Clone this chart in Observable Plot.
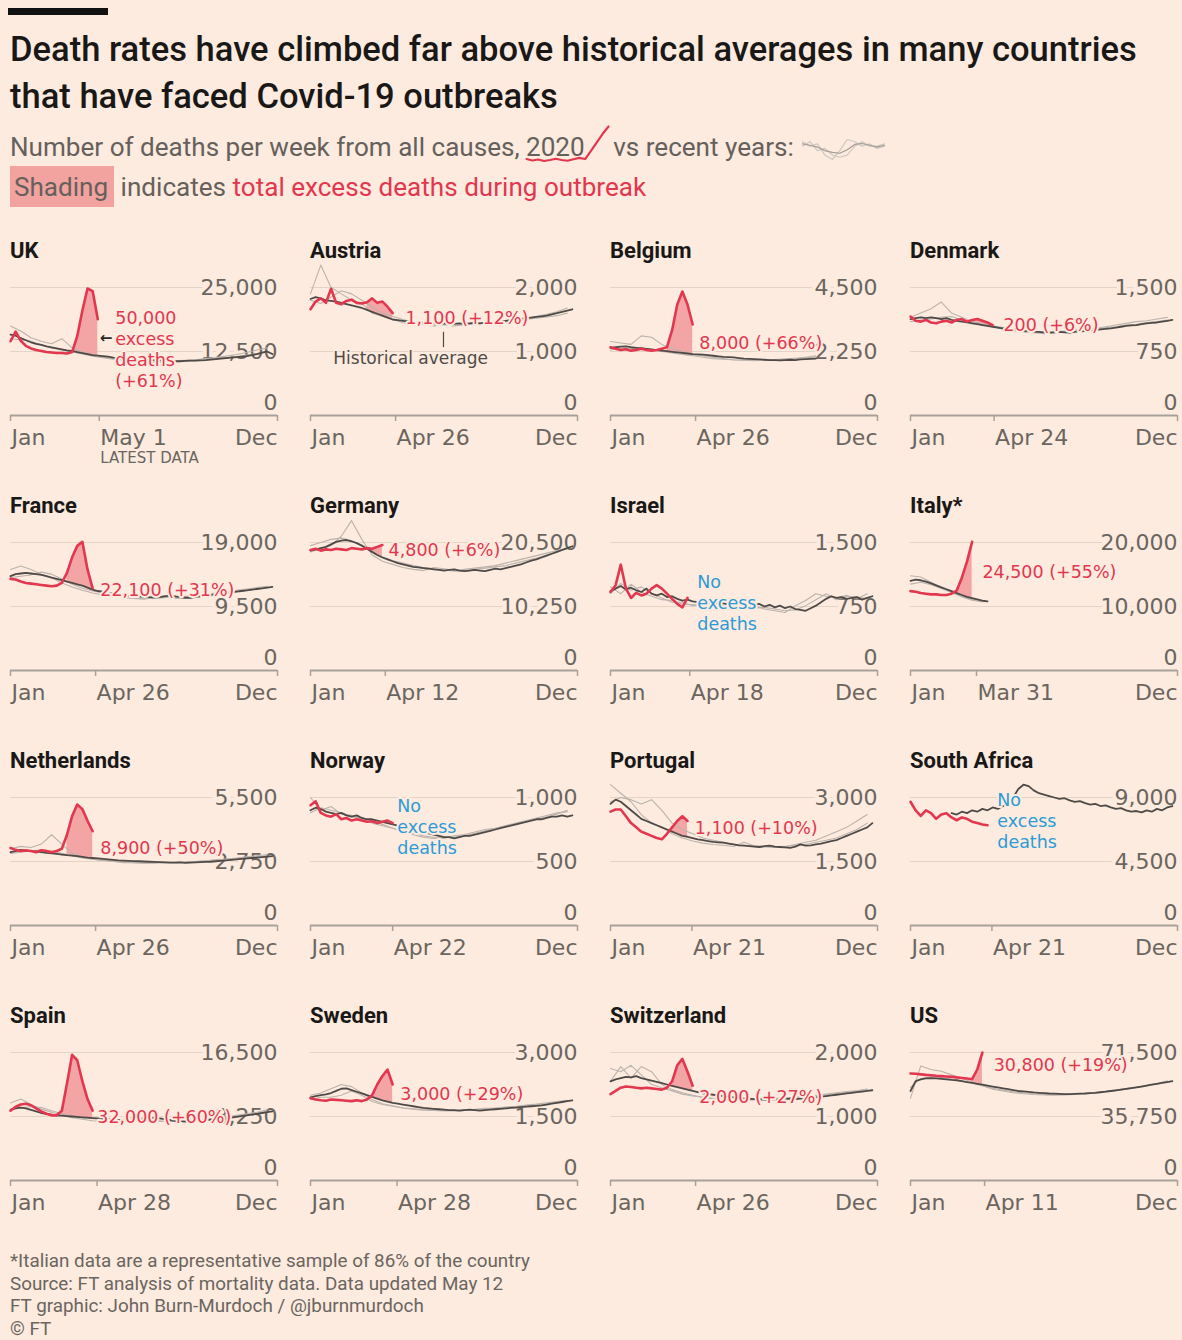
<!DOCTYPE html>
<html><head><meta charset="utf-8">
<script src="https://cdn.jsdelivr.net/npm/d3@7"></script>
<script src="https://cdn.jsdelivr.net/npm/@observablehq/plot@0.6"></script>
<style>
body{margin:0;background:#fcebde;}
#root{position:relative;width:1182px;height:1340px;overflow:hidden;font-family:Roboto,"DejaVu Sans",sans-serif;background:#fcebde;}
.bar{position:absolute;left:8px;top:8px;width:100px;height:7px;background:#111;}
.title{position:absolute;left:10px;top:26px;font-size:30px;font-weight:500;line-height:47px;color:#1a1817;white-space:nowrap;}
.sub{position:absolute;left:10px;top:127px;font-size:23px;line-height:40px;color:#66605c;white-space:nowrap;}
.sub .red{color:#e2374f;}
.sub .hl{background:#f2a3a0;padding:6px 6px 5px 4px;}
.panel{position:absolute;width:300px;height:255px;}
.ptitle{position:absolute;left:2px;top:0;font-weight:700;font-size:22px;line-height:22px;color:#1a1817;white-space:nowrap;}
.panel svg{position:absolute;left:0;top:22px;}
.foot{position:absolute;left:10px;top:1250px;font-size:16.5px;line-height:22.5px;color:#6b6560;white-space:nowrap;}
</style></head>
<body>
<div id="root">
  <div class="bar"></div>
  <div class="title" id="title"><span id="t1">Death rates have climbed far above historical averages in many countries</span><br>that have faced Covid-19 outbreaks</div>
  <div class="sub" id="sub"><span id="s1">Number of deaths per week from all causes, <span id="y2020" style="position:relative">2020</span></span><span style="display:inline-block;width:22px"></span>&nbsp;vs recent years: <span id="greyIcon" style="display:inline-block;vertical-align:middle;width:86px;height:24px;"></span><br><span class="hl">Shading</span> indicates <span class="red">total excess deaths during outbreak</span></div>
  <div id="grid"></div>
  <div class="foot" id="foot"><span id="f1">*Italian data are a representative sample of 86% of the country</span><br>Source: FT analysis of mortality data. Data updated May 12<br>FT graphic: John Burn-Murdoch / @jburnmurdoch<br>© FT</div>
</div>
<script>
// ---------------- DATA ----------------
const countries = ["UK","Austria","Belgium","Denmark","France","Germany","Israel","Italy*","Netherlands","Norway","Portugal","South Africa","Spain","Sweden","Switzerland","US"];
const yMax = [25000,2000,4500,1500,19000,20500,1500,20000,5500,1000,3000,9000,16500,3000,2000,71500];
const latestDates = ["2020-05-01","2020-04-26","2020-04-26","2020-04-24","2020-04-26","2020-04-12","2020-04-18","2020-03-31","2020-04-26","2020-04-22","2020-04-21","2020-04-21","2020-04-28","2020-04-28","2020-04-26","2020-04-11"];
const latestLabels = ["May 1","Apr 26","Apr 26","Apr 24","Apr 26","Apr 12","Apr 18","Mar 31","Apr 26","Apr 22","Apr 21","Apr 21","Apr 28","Apr 28","Apr 26","Apr 11"];
const excessLabels = ["50,000\nexcess\ndeaths\n(+61%)","1,100 (+12%)","8,000 (+66%)","200 (+6%)","22,100 (+31%)","4,800 (+6%)","No\nexcess\ndeaths","24,500 (+55%)","8,900 (+50%)","No\nexcess\ndeaths","1,100 (+10%)","No\nexcess\ndeaths","32,000 (+60%)","3,000 (+29%)","2,000 (+27%)","30,800 (+19%)"];
const hasExcess = [true,true,true,true,true,true,false,true,true,false,true,false,true,true,true,true];
const shadeStartWeek = [12,11,11,12,11,11,null,9,11,null,12,null,10,12,12,12];

// weekly deaths in 2020, from week 0 (early Jan) to latest week
const deaths2020 = [
  [14500,16400,14600,13600,13100,12800,12600,12400,12300,12200,12200,12100,12400,15500,20500,24800,24300,18800],
  [1660,1780,1830,1760,1980,1760,1740,1790,1810,1760,1750,1770,1830,1760,1780,1700,1600],
  [2400,2350,2300,2330,2280,2300,2350,2300,2280,2300,2350,2400,3000,3900,4360,3900,3200],
  [1160,1110,1100,1120,1090,1080,1100,1110,1090,1120,1130,1100,1120,1130,1110,1090,1060],
  [13600,13500,13200,13000,12900,12800,12700,12600,12500,12600,13000,14500,16800,18500,19100,15000,12200],
  [19300,19500,19200,19400,19300,19500,19400,19300,19600,19500,19400,19600,19500,19800,20100],
  [920,1000,1240,960,850,910,880,900,960,1000,960,900,840,780,740,850],
  [12400,12300,12100,12000,11900,11900,11800,11800,12000,12500,14500,17000,20100],
  [3330,3250,3200,3220,3200,3150,3230,3200,3150,3200,3300,3900,4700,5200,5000,4500,4050],
  [940,970,880,860,850,870,830,840,820,830,820,810,815,800,810,820,800],
  [2670,2720,2720,2560,2400,2300,2200,2150,2100,2050,2020,2150,2300,2450,2560,2450],
  [8700,8100,7700,8100,7900,7500,7800,7900,7600,7400,7600,7500,7300,7200,7100,7050],
  [9000,9500,9800,9900,9700,9300,8900,8600,8400,8400,9000,12500,16200,15500,12800,10500,9000],
  [1930,1900,1880,1870,1900,1890,1880,1870,1860,1880,1860,1900,2000,2250,2450,2600,2250],
  [1350,1400,1450,1470,1460,1450,1440,1450,1440,1430,1420,1450,1550,1800,1900,1700,1480],
  [59800,59600,59300,59000,58800,58500,58300,58100,57900,57600,57300,57000,56600,62000,71500]
];

// weekly historical average, week 0..51
const historicalAvg = [
  [15800,15600,15100,14700,14300,14000,13800,13500,13300,13100,12900,12700,12600,12400,12200,12000,11800,11700,11600,11500,11300,11200,11150,11100,11000,10900,10900,10850,10800,10750,10700,10650,10600,10600,10650,10700,10700,10750,10800,10900,11000,11100,11200,11300,11400,11500,11600,11800,12000,12300,12500,12000],
  [1820,1850,1830,1800,1790,1780,1760,1740,1720,1700,1680,1650,1620,1590,1560,1530,1500,1490,1480,1470,1460,1450,1450,1440,1440,1430,1440,1430,1430,1440,1430,1440,1450,1440,1450,1460,1450,1470,1480,1490,1500,1510,1520,1530,1540,1550,1560,1580,1600,1620,1640,1660],
  [2380,2400,2420,2430,2400,2380,2360,2340,2320,2300,2280,2260,2240,2220,2200,2180,2160,2150,2140,2120,2100,2080,2060,2050,2040,2020,2000,1990,1980,1970,1960,1950,1950,1940,1950,1960,1950,1970,1980,1990,2000],
  [1130,1140,1150,1140,1150,1140,1130,1140,1120,1110,1100,1090,1080,1070,1060,1050,1040,1030,1020,1010,1000,1000,990,990,980,980,975,970,975,980,975,970,980,985,990,995,1000,1010,1015,1020,1030,1040,1050,1055,1060,1070,1080,1085,1090,1100,1110,1120],
  [14000,14300,14400,14500,14400,14300,14200,14000,13800,13600,13400,13200,13000,12800,12600,12300,12000,11800,11700,11500,11400,11300,11200,11100,11000,11000,10900,10900,10850,10900,11000,11100,11000,10900,10800,10800,10900,11000,11100,11200,11300,11400,11500,11600,11700,11800,11900,12000,12100,12200,12300,12400],
  [19200,19400,19600,19800,20200,20600,20800,20900,20700,20400,20000,19500,19000,18500,18100,17800,17500,17200,17000,16800,16600,16500,16400,16300,16200,16100,16000,16100,16200,16000,15900,16000,16100,16000,15900,16100,16300,16200,16400,16600,16800,17000,17300,17600,17800,18100,18400,18700,19000,19300,19600,19900],
  [930,960,990,950,970,940,920,960,900,880,900,860,870,840,820,830,810,800,820,790,800,780,790,770,780,760,790,760,770,780,750,770,740,760,730,750,720,710,700,730,760,800,840,870,850,860,840,850,860,830,850,870],
  [14000,14200,14100,13900,13600,13300,13000,12700,12400,12100,11800,11500,11300,11100,10900,10800],
  [3150,3200,3250,3230,3200,3180,3150,3120,3100,3080,3050,3020,3000,2980,2950,2920,2900,2880,2860,2840,2820,2800,2790,2780,2770,2760,2750,2740,2730,2720,2710,2700,2700,2710,2690,2700,2710,2720,2730,2740,2760,2780,2800,2820,2840,2860,2880,2900,2920,2940,2960,2980],
  [900,920,910,890,880,870,880,860,850,860,840,830,830,820,810,800,790,780,770,760,750,740,730,720,710,700,690,690,680,690,700,700,710,720,730,740,750,760,770,780,790,800,810,820,830,830,840,850,850,860,850,860],
  [2850,2950,2900,2800,2700,2600,2500,2450,2400,2350,2300,2250,2200,2150,2100,2080,2050,2020,2000,1980,1960,1950,1940,1920,1900,1880,1870,1860,1850,1840,1860,1870,1850,1840,1830,1820,1850,1900,1870,1880,1900,1920,1950,1980,2000,2050,2100,2150,2200,2250,2300,2400],
  [null,null,null,null,null,null,null,null,7900,7800,8000,7900,8100,8000,8200,8100,8300,8200,8400,8500,9000,9600,9900,9800,9500,9300,9200,9100,9000,8900,8950,8800,8700,8750,8600,8500,8550,8400,8450,8300,8200,8250,8100,8000,8050,7950,8100,8000,8200,8100,8300,8400],
  [9100,9300,9400,9300,9100,8900,8700,8600,8500,8400,8350,8300,8250,8200,8150,8100,8050,8000,7950,7900,7850,7800,7800,7750,7700,7800,7900,8000,8100,8000,7900,7800,7700,7650,7600,7650,7700,7750,7800,7850,7900,7950,8000,8100,8200,8300,8400,8500,8600,8700,8800,8900],
  [1950,1980,2000,2020,2050,2100,2150,2160,2120,2080,2040,2000,1960,1920,1880,1850,1820,1800,1780,1760,1740,1720,1700,1690,1680,1670,1660,1650,1650,1640,1650,1660,1650,1640,1650,1660,1670,1680,1690,1700,1710,1720,1730,1740,1750,1760,1780,1800,1820,1840,1860,1880],
  [1550,1580,1600,1620,1610,1630,1600,1580,1560,1540,1520,1500,1480,1460,1440,1420,1400,1380,1360,1350,1340,1330,1320,1310,1300,1290,1280,1280,1270,1270,1260,1260,1270,1260,1270,1280,1270,1280,1290,1300,1300,1310,1320,1330,1340,1350,1360,1370,1380,1390,1400,1410],
  [50000,55500,56500,57000,57200,57000,56800,56500,56200,56000,55500,55000,54500,54000,53500,53000,52500,52000,51500,51000,50500,50000,49800,49500,49200,49000,48800,48600,48500,48400,48300,48300,48400,48500,48600,48800,49000,49300,49600,50000,50400,50800,51200,51600,52000,52500,53000,53500,54000,54500,55000,55500]
];

// two recent individual years, every second week (weeks 0,2,4,...)
const pastYearA = [
  [17500,16500,15200,14500,14000,15000,13200,12400,11800,11400,11100,10900,10700,10600,10500,10600,10700,10800,10900,11100,11300,11600,11900,12300,12800,13200],
  [1900,2350,2000,1900,1800,1750,1600,1550,1500,1450,1430,1420,1400,1420,1440,1430,1420,1450,1460,1480,1500,1520,1550,1580,1620,1680],
  [2600,2550,2500,2800,2750,2500,2350,2250,2150,2100,2050,2000,1950,1940,1930,1950,1960,1980,2000,2050,2100],
  [1150,1200,1250,1330,1200,1150,1100,1080,1050,1030,1010,990,980,970,980,990,1000,1010,1020,1040,1060,1080,1100,1110,1130,1150],
  [15000,15500,15000,14300,13800,13000,12400,11900,11500,11200,11000,10800,10700,10600,10800,11100,10700,10800,10900,11100,11300,11500,11700,11900,12100,12400],
  [19000,19500,20000,21500,24000,21000,18500,17500,17000,16500,16200,16000,16500,16300,16000,16200,16400,16600,16800,17200,17600,18000,18400,18800,19200,19600],
  [980,900,1010,920,870,830,820,780,770,760,750,790,740,730,760,720,700,680,760,820,900,870,850,880,840,900],
  [14800,14600,13800,13000,12200,11500,11000,10700],
  [3300,3400,3350,3500,3900,3500,3100,2950,2850,2800,2750,2700,2700,2680,2700,2720,2700,2720,2750,2780,2820,2860,2900,2950,3000,3050],
  [1000,900,930,870,860,830,800,780,760,740,720,700,690,680,700,710,730,750,760,780,800,820,840,860,880,890],
  [3300,3100,2900,2600,2400,2300,2150,2050,1980,1930,1900,1880,1850,1950,1870,1850,1840,1850,1900,1950,2000,2100,2200,2300,2450,2600],
  [],
  [10000,10500,9800,9200,8800,8400,8100,7900,7700,7600,7700,7900,8200,7900,7700,7600,7600,7700,7800,7900,8000,8200,8400,8600,8800,9100],
  [2000,2050,2150,2250,2200,2050,1900,1800,1750,1700,1680,1660,1650,1640,1630,1640,1650,1670,1690,1710,1730,1750,1780,1800,1830,1870],
  [1750,1700,1800,1650,1500,1450,1400,1350,1320,1300,1280,1260,1250,1260,1270,1270,1280,1290,1300,1310,1330,1350,1370,1390,1400,1420],
  [46000,64000,62000,61000,59000,57000,55000,53000,51000,50000,49000,48500,48000,47800,47700,47800,48000,48500,49000,49500,50200,51000,52000,53000,54000,55500]
];
const pastYearB = [
  [15000,14800,14500,13800,13200,12800,12400,12000,11600,11300,11000,10800,10500,10300,10300,10400,10500,10600,10700,10900,11100,11300,11500,11800,12100,12400],
  [1800,1750,1850,1950,1900,1800,1700,1600,1550,1500,1460,1440,1430,1420,1400,1420,1430,1450,1440,1460,1480,1500,1520,1540,1560,1600],
  [2300,2350,2350,2400,2300,2250,2200,2150,2100,2050,2000,1980,1960,1950,1940,1950,1970,1990,2010,2030,2060],
  [1100,1120,1130,1150,1160,1120,1090,1060,1040,1010,990,980,970,960,970,980,990,1000,1010,1030,1040,1060,1070,1090,1100,1120],
  [13800,14000,14200,14600,14300,13600,12800,12200,11800,11500,11200,11000,10800,10700,10700,10800,10900,11000,11100,11300,11500,11700,11900,12100,12300,12500],
  [20000,20500,21000,21200,20800,20000,19000,18200,17600,17200,16800,16500,16300,16100,15900,16000,16200,16400,16600,16800,17200,17600,18000,18500,19000,19500],
  [900,1020,940,980,900,850,800,800,760,780,740,760,720,750,730,740,720,700,710,760,830,900,830,870,860,840],
  [13500,13800,13400,12800,12200,11600,11100,10900],
  [3100,3150,3200,3250,3200,3100,3000,2900,2850,2800,2780,2750,2700,2690,2680,2700,2710,2730,2750,2780,2810,2850,2880,2920,2960,3000],
  [880,920,900,880,850,840,820,790,760,730,710,690,680,690,690,700,720,740,760,780,790,810,830,850,870,900],
  [2900,3000,2950,2850,2950,2700,2400,2250,2150,2050,2000,1950,1900,1880,1860,1840,1830,1850,1880,1900,1950,2000,2050,2150,2250,2400],
  [],
  [9200,9400,9500,9400,9000,8600,8300,8100,8000,7900,7800,7800,7900,8100,7800,7600,7600,7700,7800,7900,8000,8100,8300,8500,8700,8900],
  [1900,1950,1950,2000,2100,2000,1850,1780,1740,1700,1670,1650,1640,1630,1640,1660,1670,1690,1700,1720,1740,1770,1790,1820,1850,1880],
  [1550,1780,1600,1780,1700,1500,1420,1370,1330,1300,1280,1270,1260,1250,1260,1270,1280,1290,1300,1310,1320,1340,1360,1380,1400,1430],
  [52000,57000,58000,57500,56500,55500,54500,53000,51500,50500,49500,49000,48500,48200,48000,48100,48300,48700,49200,49800,50500,51300,52200,53200,54200,55500]
];

// subtitle legend sparklines
const legend2020 = [2.6,2.0,2.4,1.8,2.2,2.7,2.2,1.9,2.5,3.1,2.6,6,9.5,13,16];
const legendGreyA = [6,5,5.5,3,2,4,6.5,6,5,5.5,4.5,5];
const legendGreyB = [5,6,4,4.5,3,2.5,3,5,6,5,5,5.5];
const legendGreyC = [5.5,5.2,4.8,4,3.6,3.4,4.2,5.4,5.6,5.2,4.8,5.2];

// ---------------- STYLE ----------------
const BG = "#fcebde", GRID = "#e4d4c6", AXIS = "#a8a19b", AXIS_TXT = "#6b6560";
const GREY = "#bcb3ac", DARK = "#4f4a47", RED = "#e2374f", PINK = "#f2a0a0", BLUE = "#2d9bd6";
const NUMFONT = "'DejaVu Sans', sans-serif";
const fmt = d3.format(",");

// annotation anchors (week, deaths) per panel
const labelAnchor = [
  {w:20.4, v:13081},{w:18.5, v:1535},{w:17.3, v:2581},{w:18.1, v:1070},
  {w:17.5, v:12077},{w:15.2, v:19388},{w:16.9, v:802},{w:14.0, v:15504},
  {w:17.5, v:3368},{w:16.9, v:775},{w:16.4, v:2302},{w:16.9, v:7395},
  {w:16.9, v:8314},{w:17.5, v:2047},{w:17.3, v:1318},{w:16.2, v:64849}
];

function fit(measure, apply, target){
  const w = measure.getBoundingClientRect().width;
  const fs = parseFloat(getComputedStyle(apply).fontSize);
  apply.style.fontSize = (fs * target / w).toFixed(2) + "px";
}
fit(document.getElementById("t1"), document.getElementById("title"), 1127);
fit(document.getElementById("s1"), document.getElementById("sub"), 575);
fit(document.getElementById("f1"), document.getElementById("foot"), 520);

function dayOfYear(s){ const d = new Date(s + "T00:00:00Z"); return (d - Date.UTC(2020,0,1)) / 864e5; }

function panel(i){
  const maxV = yMax[i], midV = maxV / 2;
  const latest = dayOfYear(latestDates[i]) / 7;
  const red = deaths2020[i].map((v, w) => ({w, v}));
  const avg = historicalAvg[i].map((v, w) => ({w, v}));
  const grey = [
    ...pastYearA[i].map((v, k) => ({w: 2 * k, v, s: "a"})),
    ...pastYearB[i].map((v, k) => ({w: 2 * k, v, s: "b"}))
  ];
  const st = shadeStartWeek[i];
  const shade = st == null ? [] : red.filter(d => d.w >= st && historicalAvg[i][d.w] != null)
    .map(d => ({w: d.w, lo: historicalAvg[i][d.w], hi: Math.max(d.v, historicalAvg[i][d.w])}));
  const a = labelAnchor[i];
  const marks = [
    Plot.ruleY([midV, maxV], {stroke: GRID, strokeWidth: 1}),
    Plot.text([maxV, midV], {y: d => d, frameAnchor: "right", textAnchor: "end", text: d => fmt(d), fill: AXIS_TXT, stroke: BG, strokeWidth: 8, fontSize: 22, fontFamily: NUMFONT}),
    Plot.text([0], {y: d => d, frameAnchor: "right", textAnchor: "end", dy: -13, text: d => fmt(d), fill: AXIS_TXT, fontSize: 22, fontFamily: NUMFONT}),
    Plot.ruleY([0], {stroke: AXIS, strokeWidth: 2}),
    Plot.axisX([0, latest, 52], {tickSize: 6, tickFormat: () => "", stroke: AXIS, strokeWidth: 1.5, label: null}),
    Plot.text([{w: 0, t: "Jan"}, {w: latest, t: latestLabels[i]}], {x: "w", y: () => 0, dy: 22, dx: 1, text: "t", textAnchor: "start", fill: AXIS_TXT, fontSize: 22, fontFamily: NUMFONT}),
    Plot.text([{w: 52, t: "Dec"}], {x: "w", y: () => 0, dy: 22, text: "t", textAnchor: "end", fill: AXIS_TXT, fontSize: 22, fontFamily: NUMFONT}),
    Plot.areaY(shade, {x: "w", y1: "lo", y2: "hi", fill: PINK, fillOpacity: 0.95}),
    Plot.line(grey, {x: "w", y: "v", z: "s", stroke: GREY, strokeWidth: 1.1}),
    Plot.line(avg, {x: "w", y: "v", stroke: DARK, strokeWidth: 1.8}),
    Plot.line(red, {x: "w", y: "v", stroke: RED, strokeWidth: 2.6}),
    Plot.text([{w: a.w, v: a.v, t: excessLabels[i]}], {x: "w", y: "v", text: "t", textAnchor: "start", lineHeight: 1.2,
      fill: hasExcess[i] ? RED : BLUE, stroke: BG, strokeWidth: 4, fontSize: 17.5, fontFamily: NUMFONT})
  ];
  if (i === 0) {
    marks.push(Plot.text([{w: latest, t: "LATEST DATA"}], {x: "w", y: () => 0, dy: 43, dx: 1, text: "t", textAnchor: "start", fill: AXIS_TXT, fontSize: 15, fontFamily: NUMFONT}));
    marks.push(Plot.text([{w: 18.6, v: 15116}], {x: "w", y: "v", text: () => "←", fill: "#2b2825", fontSize: 15, fontWeight: "bold", fontFamily: NUMFONT}));
  }
  if (i === 1) {
    marks.push(Plot.ruleX([{w: 25.9}], {x: "w", y1: 1060, y2: 1300, stroke: DARK, strokeWidth: 1.2}));
    marks.push(Plot.text([{w: 19.5, v: 884, t: "Historical average"}], {x: "w", y: "v", text: "t", textAnchor: "middle", fill: DARK, stroke: BG, strokeWidth: 3, fontSize: 17, fontFamily: NUMFONT}));
  }
  return Plot.plot({
    width: 290, height: 200,
    marginTop: 25, marginBottom: 47, marginLeft: 2, marginRight: 21,
    x: {domain: [0, 52], axis: null, label: null},
    y: {domain: [0, maxV], axis: null, label: null},
    style: {background: "transparent", overflow: "visible", fontFamily: NUMFONT},
    marks
  });
}

const grid = document.getElementById("grid");
countries.forEach((name, i) => {
  const r = Math.floor(i / 4), c = i % 4;
  const div = document.createElement("div");
  div.className = "panel";
  div.style.left = (8 + 300 * c) + "px";
  div.style.top = (240 + 255 * r) + "px";
  const t = document.createElement("div");
  t.className = "ptitle";
  t.textContent = name;
  div.appendChild(t);
  div.appendChild(panel(i));
  grid.appendChild(div);
});

// legend: red 2020 sparkline under "2020", grey recent-years icon
(function(){
  const root = document.getElementById("root").getBoundingClientRect();
  const span = document.getElementById("y2020");
  const rect = span.getBoundingClientRect();
  const step = rect.width / 10;
  const w = step * (legend2020.length - 1) + 4;
  const baseline = rect.bottom - 0.24 * parseFloat(getComputedStyle(span).fontSize);
  const svg = Plot.plot({
    width: w, height: 40, marginLeft: 2, marginRight: 2, marginTop: 3, marginBottom: 3,
    x: {axis: null, domain: [0, legend2020.length - 1]}, y: {axis: null, domain: [2, 16]},
    style: {background: "transparent", overflow: "visible"},
    marks: [Plot.line(legend2020.map((v, i) => ({i, v})), {x: "i", y: "v", stroke: RED, strokeWidth: 2.2})]
  });
  svg.style.position = "absolute";
  svg.style.left = (rect.left - root.left - 2) + "px";
  svg.style.top = (baseline - root.top - 33) + "px";
  document.getElementById("root").appendChild(svg);

  const g = [
    ...legendGreyA.map((v, i) => ({i, v, s: "a"})),
    ...legendGreyB.map((v, i) => ({i, v, s: "b"})),
    ...legendGreyC.map((v, i) => ({i, v, s: "c"}))
  ];
  const icon = Plot.plot({
    width: 86, height: 24, margin: 2,
    x: {axis: null}, y: {axis: null},
    style: {background: "transparent"},
    marks: [Plot.line(g, {x: "i", y: "v", z: "s", stroke: d => d.s === "c" ? "#a59d97" : "#cfc7c0", strokeWidth: 1.2})]
  });
  document.getElementById("greyIcon").appendChild(icon);
})();
</script>
</body></html>
